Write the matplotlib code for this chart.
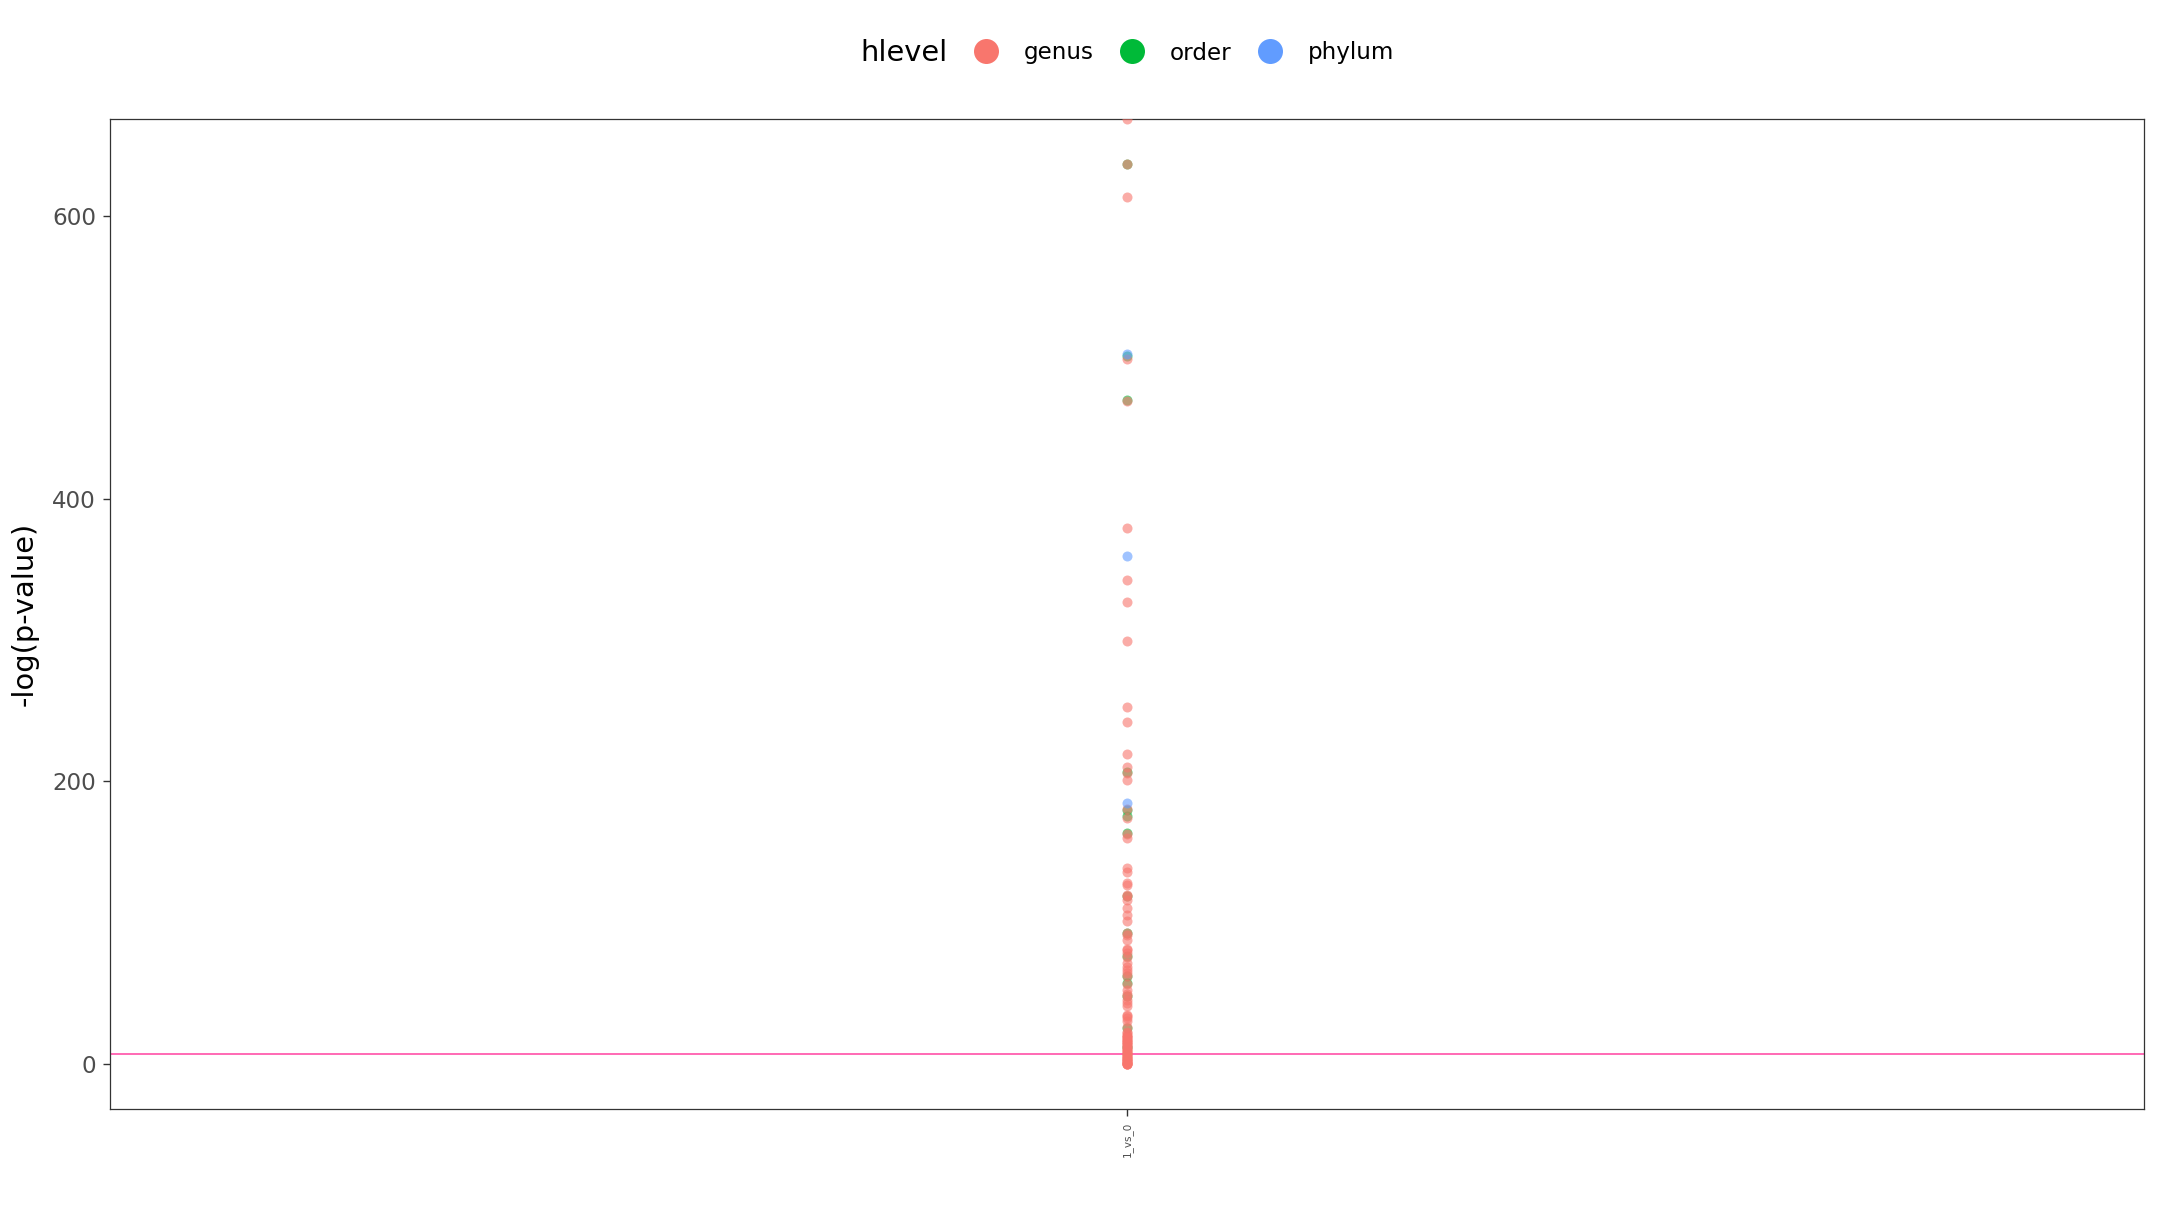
import numpy as np
import matplotlib
matplotlib.use("Agg")
import matplotlib.pyplot as plt
from matplotlib.lines import Line2D

# ---------------- data ----------------
comparison = ["1_vs_0"]
levels = ["genus", "order", "phylum"]
level_colors = ["#F8766D", "#00BA38", "#619CFF"]

genus_vals = [np.inf, 636.9, 613.4, 498.5, 469.0, 379.3, 342.4, 327.0, 299.3,
              252.9, 241.9, 219.3, 210.1, 206.0, 201.1, 180.4, 174.0, 162.5,
              159.9, 138.7, 136.3, 128.5, 127.0, 119.5, 118.8, 116.3, 110.5,
              105.7, 101.0, 92.8, 91.5, 88.1, 81.5, 80.5, 79.0, 76.0, 71.6,
              69.0, 66.9, 64.5, 62.2, 57.0, 52.8, 50.0, 48.0, 45.5, 43.4, 41.0,
              35.0, 33.9, 32.5, 30.5, 26.5, 23.0, 22.0, 21.0, 20.0, 19.5, 19.0,
              18.0, 17.5, 17.0, 16.0, 15.5, 15.0, 14.0, 13.5, 13.0, 12.0, 11.5,
              11.0, 10.0, 9.5, 9.0, 8.0, 7.5, 7.0, 6.0, 5.5, 5.0, 4.5, 4.0,
              3.5, 3.0, 2.5, 2.0, 1.5, 1.0, 0.8, 0.5, 0.3, 0.1, 0.0]
order_vals = [636.6, 500.8, 469.8, 206.8, 180.0, 175.5, 163.8, 119.0, 92.5,
              76.3, 62.2, 57.5, 48.0, 25.7, 12.0]
phylum_vals = [502.1, 359.1, 184.6]

threshold = -np.log(0.001)

series = [genus_vals, order_vals, phylum_vals]
layer = [3.1, 3.0, 3.2]  # order underneath genus, phylum on top

# ---------------- figure ----------------
fig = plt.figure(figsize=(21.6, 12.15), dpi=100)
ax = fig.add_axes([110 / 2160, 1 - 1109.3 / 1215, (2144 - 110) / 2160, (1109.3 - 118.5) / 1215])

finite = np.concatenate([np.asarray(v, float)[np.isfinite(v)] for v in series])
lo, hi = finite.min(), finite.max()
pad = 0.05 * (hi - lo)
ymin, ymax = lo - pad, hi + pad

for vals, col, z in zip(series, level_colors, layer):
    y = np.asarray(vals, float)
    y = np.where(np.isposinf(y), ymax, y)
    x = np.zeros_like(y)
    ax.scatter(x, y, s=52, color=col, alpha=0.6, linewidths=0, zorder=z, clip_on=True)

ax.axhline(threshold, color="#FF69B4", lw=1.4, zorder=2)

ax.set_xlim(-0.6, 0.6)
ax.set_ylim(ymin, ymax)
ax.set_xticks([0])
ax.set_xticklabels(comparison, rotation=90, fontsize=7.5, color="#4D4D4D")
ax.set_yticks([0, 200, 400, 600])
ax.tick_params(axis="y", labelsize=16.6, labelcolor="#4D4D4D", length=5, width=1.0,
               color="#333333", pad=5)
ax.tick_params(axis="x", length=5, width=1.0, color="#333333", pad=4)
for sp in ax.spines.values():
    sp.set_color("#333333")
    sp.set_linewidth(0.9)
ax.set_ylabel("-log(p-value)", fontsize=20.8, color="black", labelpad=10)

# legend
fig.text(860 / 2160, 1 - 53 / 1215, "hlevel", fontsize=20.8, ha="left", va="center")
handles = [Line2D([], [], marker="o", linestyle="none", markersize=18,
                  markerfacecolor=c, markeredgewidth=0) for c in level_colors]
fig.legend(handles, levels, ncol=3, frameon=False, fontsize=16.6,
           loc="center left", bbox_to_anchor=(971.9 / 2160, 1 - 53 / 1215),
           handlelength=1.2, handletextpad=1.06, columnspacing=1.04,
           borderpad=0, borderaxespad=0)

fig.savefig("out.png", dpi=100)
